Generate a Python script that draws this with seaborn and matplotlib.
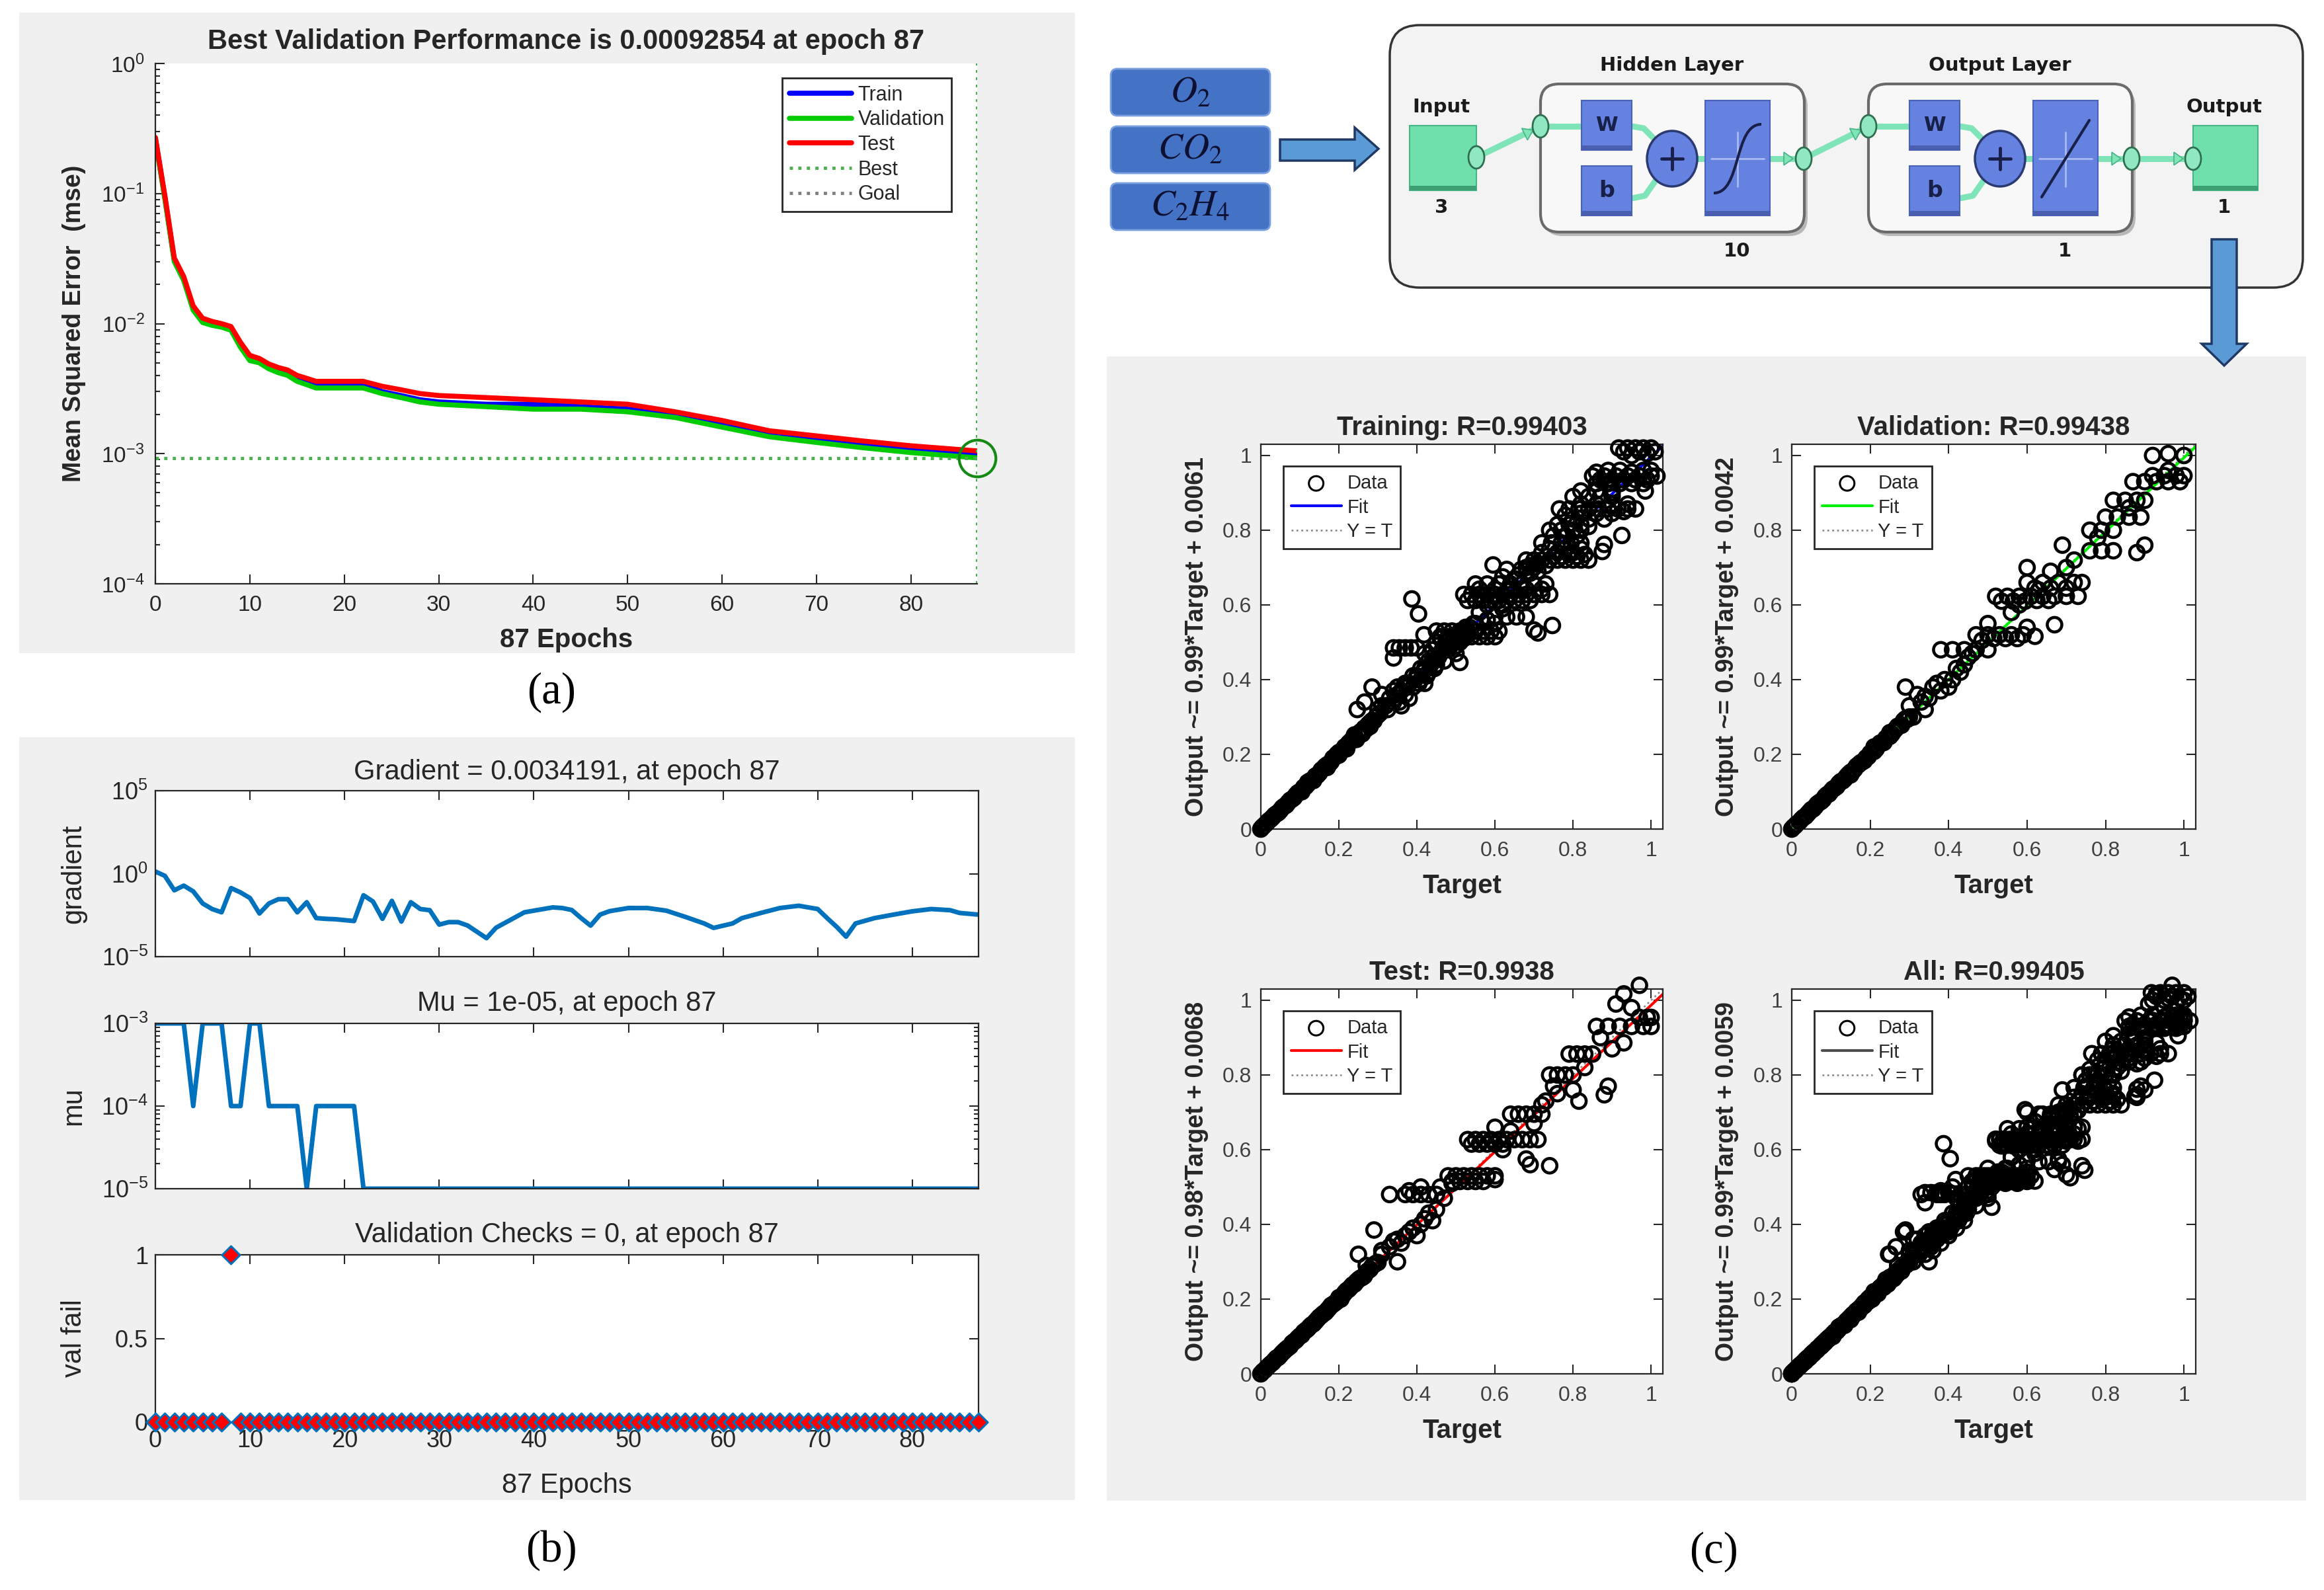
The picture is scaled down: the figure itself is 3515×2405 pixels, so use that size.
import numpy as np
import pandas as pd
import matplotlib
matplotlib.use('Agg')
import matplotlib.pyplot as plt
import seaborn as sns
from matplotlib.patches import Rectangle, FancyBboxPatch, Ellipse, Polygon, PathPatch
from matplotlib.path import Path
from matplotlib.ticker import FixedLocator, NullLocator, NullFormatter

W, H = 3516, 2405

# ---------------- (a) training performance (mse per epoch) ----------------
perf_epochs = [0, 1, 2, 3, 4, 5, 6, 7, 8, 9, 10, 11, 12, 13, 14, 15, 16, 17, 20, 22,
               24, 26, 28, 30, 35, 40, 45, 50, 55, 60, 65, 70, 75, 80, 87]
perf_train = [0.265, 0.094, 0.031, 0.0223, 0.0132, 0.0106, 0.01, 0.0097, 0.0092, 0.0069,
              0.0055, 0.0052, 0.0047, 0.0044, 0.0042, 0.0038, 0.0036, 0.0034, 0.0034, 0.0034,
              0.003, 0.0028, 0.0026, 0.0025, 0.0024, 0.0024, 0.0023, 0.0022, 0.002, 0.0017,
              0.0014, 0.00128, 0.00117, 0.00108, 0.00099]
perf_val = [0.26, 0.091, 0.03, 0.0215, 0.0127, 0.0102, 0.0097, 0.0094, 0.0089, 0.0066,
            0.0052, 0.005, 0.0045, 0.0042, 0.004, 0.0036, 0.0034, 0.0032, 0.0032, 0.0032,
            0.0029, 0.0027, 0.0025, 0.0024, 0.0023, 0.0022, 0.0022, 0.0021, 0.0019, 0.0016,
            0.00135, 0.00122, 0.00111, 0.00102, 0.00092854]
perf_test = [0.27, 0.097, 0.032, 0.023, 0.0137, 0.011, 0.0104, 0.01, 0.0095, 0.0072,
             0.0057, 0.0054, 0.0049, 0.0046, 0.0044, 0.004, 0.0038, 0.0036, 0.0036, 0.0036,
             0.0033, 0.0031, 0.0029, 0.0028, 0.0027, 0.0026, 0.0025, 0.0024, 0.0021, 0.0018,
             0.0015, 0.00137, 0.00125, 0.00115, 0.00105]
best_epoch = 87
best_perf = 0.00092854

# ---------------- (b) training state ----------------
grad_epochs = [0, 1, 2, 3, 4, 5, 6, 7, 8, 9, 10, 11, 12, 13, 14, 15, 16, 17, 18, 19, 21,
               22, 23, 24, 25, 26, 27, 28, 29, 30, 31, 32, 33, 35, 36, 38, 39, 41, 42, 43,
               44, 45, 46, 47, 48, 50, 52, 54, 56, 58, 59, 61, 62, 64, 66, 68, 70, 71, 72,
               73, 74, 76, 78, 80, 82, 84, 85, 87]
grad_values = [1.35, 0.74, 0.1, 0.19, 0.086, 0.016, 0.0074, 0.0047, 0.135, 0.074, 0.034,
               0.004, 0.016, 0.029, 0.029, 0.0047, 0.019, 0.0021, 0.0019, 0.0018, 0.0014,
               0.05, 0.021, 0.0019, 0.023, 0.0013, 0.019, 0.0074, 0.0063, 0.00085, 0.0012,
               0.0012, 0.00075, 0.00013, 0.00055, 0.0023, 0.0047, 0.0074, 0.0093, 0.0085,
               0.0065, 0.0021, 0.00074, 0.0034, 0.0055, 0.0085, 0.0085, 0.0059, 0.0025,
               0.001, 0.00054, 0.001, 0.0021, 0.0043, 0.0085, 0.0117, 0.0074, 0.0021,
               0.00063, 0.00016, 0.001, 0.0021, 0.0034, 0.0054, 0.0074, 0.0063, 0.0043, 0.0034]
mu_epochs = [0, 3, 4, 5, 7, 8, 9, 10, 11, 12, 15, 16, 17, 21, 22, 87]
mu_values = [1e-3, 1e-3, 1e-4, 1e-3, 1e-3, 1e-4, 1e-4, 1e-3, 1e-3, 1e-4, 1e-4, 1e-5,
             1e-4, 1e-4, 1e-5, 1e-5]
valfail_epochs = list(range(88))
valfail_values = [0, 0, 0, 0, 0, 0, 0, 0, 1, 0, 0, 0, 0, 0, 0, 0, 0, 0, 0, 0, 0, 0,
                  0, 0, 0, 0, 0, 0, 0, 0, 0, 0, 0, 0, 0, 0, 0, 0, 0, 0, 0, 0, 0, 0,
                  0, 0, 0, 0, 0, 0, 0, 0, 0, 0, 0, 0, 0, 0, 0, 0, 0, 0, 0, 0, 0, 0,
                  0, 0, 0, 0, 0, 0, 0, 0, 0, 0, 0, 0, 0, 0, 0, 0, 0, 0, 0, 0, 0, 0]

# ---------------- (c) regression (target, output) ----------------
train_points = [
    (0.000, 0.000), (0.003, 0.004), (0.006, 0.007), (0.010, 0.011), (0.015, 0.016), (0.020, 0.022),
    (0.025, 0.026), (0.030, 0.031), (0.040, 0.041), (0.050, 0.050), (0.060, 0.061), (0.070, 0.071),
    (0.080, 0.080), (0.090, 0.091), (0.100, 0.100), (0.110, 0.112), (0.120, 0.120), (0.130, 0.131),
    (0.140, 0.142), (0.150, 0.150), (0.160, 0.162), (0.170, 0.172), (0.180, 0.180), (0.190, 0.193),
    (0.200, 0.205), (0.210, 0.212), (0.220, 0.222), (0.230, 0.235), (0.240, 0.245), (0.250, 0.250),
    (0.260, 0.262), (0.270, 0.268), (0.280, 0.285), (0.290, 0.290), (0.300, 0.305),
    (0.035, 0.037), (0.045, 0.044), (0.055, 0.057), (0.065, 0.064), (0.075, 0.077), (0.085, 0.084),
    (0.095, 0.097), (0.115, 0.114), (0.125, 0.128), (0.145, 0.144), (0.165, 0.168), (0.175, 0.174),
    (0.205, 0.207),
    (0.120, 0.125), (0.170, 0.165), (0.200, 0.198), (0.220, 0.215), (0.240, 0.252), (0.260, 0.255),
    (0.280, 0.275), (0.247, 0.320), (0.266, 0.340), (0.285, 0.380), (0.300, 0.320), (0.310, 0.360),
    (0.105, 0.100), (0.135, 0.130), (0.155, 0.158), (0.185, 0.190), (0.195, 0.200), (0.215, 0.220),
    (0.235, 0.240), (0.255, 0.260), (0.275, 0.280), (0.295, 0.300), (0.225, 0.230), (0.245, 0.240),
    (0.265, 0.270), (0.285, 0.290), (0.305, 0.310),
    (0.320, 0.330), (0.330, 0.350), (0.340, 0.340), (0.350, 0.360), (0.360, 0.370), (0.370, 0.360),
    (0.380, 0.390), (0.390, 0.380), (0.400, 0.410), (0.410, 0.400), (0.420, 0.430), (0.430, 0.420),
    (0.440, 0.450), (0.450, 0.440), (0.360, 0.330), (0.380, 0.350), (0.420, 0.390), (0.340, 0.370),
    (0.310, 0.330), (0.325, 0.320), (0.345, 0.350), (0.355, 0.340), (0.365, 0.380), (0.375, 0.380),
    (0.395, 0.400), (0.405, 0.390), (0.415, 0.420), (0.425, 0.410), (0.435, 0.440), (0.445, 0.430),
    (0.455, 0.460), (0.390, 0.410), (0.410, 0.430), (0.430, 0.450), (0.350, 0.380), (0.370, 0.390),
    (0.340, 0.485), (0.355, 0.485), (0.370, 0.485), (0.385, 0.485), (0.400, 0.485),
    (0.340, 0.458), (0.387, 0.616), (0.404, 0.576), (0.418, 0.520), (0.510, 0.446), (0.420, 0.470),
    (0.460, 0.470), (0.470, 0.490), (0.480, 0.480), (0.490, 0.500), (0.500, 0.510), (0.510, 0.500),
    (0.520, 0.530), (0.530, 0.520), (0.500, 0.470), (0.470, 0.450), (0.440, 0.480), (0.450, 0.500),
    (0.465, 0.480), (0.475, 0.500), (0.485, 0.490), (0.495, 0.510), (0.505, 0.520), (0.515, 0.510),
    (0.525, 0.540), (0.535, 0.540), (0.545, 0.550), (0.480, 0.510), (0.500, 0.490), (0.520, 0.510),
    (0.460, 0.510), (0.440, 0.460),
    (0.450, 0.530), (0.470, 0.530), (0.490, 0.530), (0.510, 0.530), (0.530, 0.530), (0.550, 0.530),
    (0.570, 0.530), (0.590, 0.530), (0.610, 0.530), (0.550, 0.550), (0.580, 0.560), (0.600, 0.550),
    (0.460, 0.515), (0.480, 0.515), (0.500, 0.515), (0.520, 0.515), (0.540, 0.515), (0.560, 0.515),
    (0.580, 0.515), (0.600, 0.515),
    (0.520, 0.628), (0.540, 0.628), (0.560, 0.628), (0.580, 0.628), (0.600, 0.628), (0.620, 0.628),
    (0.640, 0.628), (0.660, 0.628), (0.680, 0.628), (0.700, 0.628), (0.720, 0.628), (0.740, 0.628),
    (0.530, 0.612), (0.550, 0.612), (0.570, 0.612), (0.590, 0.612), (0.610, 0.612), (0.630, 0.612),
    (0.650, 0.612), (0.670, 0.612), (0.690, 0.612), (0.560, 0.642), (0.600, 0.642), (0.640, 0.642),
    (0.680, 0.642), (0.720, 0.642),
    (0.550, 0.656), (0.580, 0.656), (0.610, 0.656), (0.640, 0.656), (0.670, 0.656), (0.700, 0.656),
    (0.730, 0.656), (0.560, 0.580), (0.580, 0.600), (0.600, 0.610), (0.620, 0.600), (0.640, 0.640),
    (0.660, 0.680), (0.680, 0.700), (0.700, 0.700), (0.630, 0.568), (0.655, 0.568), (0.680, 0.568),
    (0.700, 0.533), (0.710, 0.525), (0.747, 0.545), (0.600, 0.570), (0.620, 0.590), (0.595, 0.707),
    (0.630, 0.695), (0.667, 0.695), (0.620, 0.675), (0.650, 0.670), (0.690, 0.685), (0.710, 0.690),
    (0.680, 0.720), (0.700, 0.720), (0.720, 0.720), (0.740, 0.720), (0.760, 0.720), (0.780, 0.720),
    (0.800, 0.720), (0.820, 0.720), (0.840, 0.720), (0.720, 0.740), (0.760, 0.740), (0.800, 0.740),
    (0.690, 0.705), (0.710, 0.710), (0.730, 0.705), (0.750, 0.730), (0.770, 0.730), (0.790, 0.735),
    (0.810, 0.730), (0.830, 0.735), (0.740, 0.750), (0.780, 0.750), (0.820, 0.750),
    (0.720, 0.766), (0.745, 0.766), (0.770, 0.766), (0.795, 0.766), (0.820, 0.766),
    (0.925, 0.786), (0.880, 0.762), (0.875, 0.743), (0.740, 0.800), (0.770, 0.800),
    (0.800, 0.800), (0.820, 0.800), (0.750, 0.785), (0.780, 0.785), (0.810, 0.785), (0.760, 0.815),
    (0.790, 0.815), (0.820, 0.815), (0.840, 0.810),
    (0.765, 0.857), (0.790, 0.857), (0.815, 0.857), (0.840, 0.857), (0.865, 0.857), (0.890, 0.857),
    (0.915, 0.857), (0.940, 0.857), (0.960, 0.857), (0.800, 0.830), (0.840, 0.830), (0.880, 0.830),
    (0.780, 0.840), (0.820, 0.845), (0.860, 0.845), (0.900, 0.845), (0.930, 0.850), (0.820, 0.870),
    (0.860, 0.870), (0.900, 0.870), (0.940, 0.870), (0.820, 0.905), (0.860, 0.905), (0.900, 0.910),
    (0.800, 0.890), (0.840, 0.890), (0.870, 0.890), (0.900, 0.890),
    (0.860, 0.925), (0.890, 0.925), (0.920, 0.925), (0.950, 0.925), (0.980, 0.925), (0.850, 0.945),
    (0.880, 0.945), (0.910, 0.945), (0.940, 0.945), (0.970, 0.945), (1.000, 0.945), (1.015, 0.945),
    (0.870, 0.935), (0.900, 0.935), (0.930, 0.935), (0.960, 0.935), (0.990, 0.935), (0.860, 0.955),
    (0.890, 0.960), (0.920, 0.960), (0.950, 0.955), (0.980, 0.960), (1.000, 0.960),
    (0.985, 0.905), (0.900, 0.900), (0.917, 1.020), (0.940, 1.020), (0.960, 1.020), (0.980, 1.020),
    (1.000, 1.020), (0.950, 1.000), (0.990, 1.005), (0.930, 1.010), (0.970, 1.010), (1.010, 1.010),
]
val_points = [
    (0.000, 0.000), (0.004, 0.005), (0.008, 0.008), (0.012, 0.013), (0.020, 0.020), (0.030, 0.031),
    (0.040, 0.040), (0.050, 0.052), (0.060, 0.060), (0.070, 0.071), (0.080, 0.079), (0.090, 0.092),
    (0.100, 0.101), (0.110, 0.110), (0.120, 0.122), (0.130, 0.129), (0.140, 0.141), (0.150, 0.152),
    (0.160, 0.160), (0.170, 0.172), (0.180, 0.180), (0.190, 0.191), (0.200, 0.203), (0.210, 0.208),
    (0.220, 0.224), (0.230, 0.230), (0.240, 0.243), (0.250, 0.248), (0.260, 0.262), (0.270, 0.275),
    (0.280, 0.278), (0.290, 0.295), (0.300, 0.300), (0.150, 0.145), (0.210, 0.220), (0.250, 0.258),
    (0.025, 0.026), (0.035, 0.034), (0.045, 0.046), (0.055, 0.054), (0.065, 0.067), (0.075, 0.074),
    (0.085, 0.087), (0.095, 0.094), (0.105, 0.107), (0.115, 0.114), (0.125, 0.127), (0.135, 0.134),
    (0.145, 0.147), (0.155, 0.154), (0.175, 0.177), (0.195, 0.194), (0.205, 0.206), (0.215, 0.214),
    (0.245, 0.247), (0.255, 0.254), (0.275, 0.277), (0.295, 0.294),
    (0.165, 0.168), (0.185, 0.183), (0.225, 0.230), (0.235, 0.232), (0.265, 0.268), (0.285, 0.290),
    (0.290, 0.380), (0.320, 0.360), (0.300, 0.330), (0.310, 0.300), (0.330, 0.340), (0.350, 0.350),
    (0.360, 0.380), (0.380, 0.370), (0.390, 0.400), (0.410, 0.400), (0.420, 0.430), (0.440, 0.440),
    (0.450, 0.460), (0.400, 0.380), (0.340, 0.320), (0.340, 0.355), (0.370, 0.390), (0.430, 0.420),
    (0.380, 0.480), (0.410, 0.480), (0.440, 0.480), (0.470, 0.480), (0.500, 0.480), (0.460, 0.470),
    (0.470, 0.520), (0.500, 0.520), (0.530, 0.520), (0.560, 0.520), (0.590, 0.520), (0.485, 0.505),
    (0.515, 0.510), (0.545, 0.510), (0.575, 0.510),
    (0.600, 0.540), (0.620, 0.516), (0.670, 0.547), (0.500, 0.550), (0.520, 0.623),
    (0.550, 0.623), (0.580, 0.623), (0.610, 0.623), (0.640, 0.623), (0.670, 0.623), (0.700, 0.623),
    (0.730, 0.623), (0.535, 0.610), (0.565, 0.610), (0.595, 0.610), (0.625, 0.612), (0.655, 0.612),
    (0.600, 0.660), (0.640, 0.660), (0.680, 0.660), (0.720, 0.660), (0.740, 0.660), (0.620, 0.645),
    (0.660, 0.645), (0.700, 0.645),
    (0.600, 0.700), (0.660, 0.690), (0.690, 0.760), (0.560, 0.580), (0.580, 0.600), (0.630, 0.640),
    (0.700, 0.700), (0.720, 0.720), (0.760, 0.745), (0.790, 0.745), (0.820, 0.745), (0.880, 0.740),
    (0.900, 0.760), (0.760, 0.800), (0.790, 0.800), (0.820, 0.800), (0.780, 0.780), (0.800, 0.835),
    (0.830, 0.835), (0.860, 0.835), (0.890, 0.835), (0.820, 0.880), (0.850, 0.880), (0.880, 0.880),
    (0.900, 0.880), (0.860, 0.860), (0.870, 0.930), (0.900, 0.930), (0.930, 0.930), (0.960, 0.930),
    (0.990, 0.930), (0.920, 0.946), (0.950, 0.946), (0.980, 0.946), (1.000, 0.946), (0.960, 0.960),
    (0.920, 1.000), (0.960, 1.005), (1.000, 1.000),
]
test_points = [
    (0.000, 0.000), (0.005, 0.006), (0.010, 0.010), (0.015, 0.016), (0.020, 0.021), (0.030, 0.030),
    (0.040, 0.042), (0.050, 0.050), (0.060, 0.061), (0.070, 0.070), (0.080, 0.082), (0.090, 0.090),
    (0.100, 0.101), (0.110, 0.112), (0.120, 0.120), (0.130, 0.131), (0.140, 0.140), (0.150, 0.152),
    (0.160, 0.161), (0.170, 0.170), (0.180, 0.183), (0.190, 0.190), (0.200, 0.204), (0.210, 0.210),
    (0.220, 0.223), (0.230, 0.232), (0.240, 0.240), (0.250, 0.252), (0.260, 0.258), (0.270, 0.272),
    (0.280, 0.280), (0.290, 0.292), (0.300, 0.298), (0.205, 0.200), (0.235, 0.238), (0.265, 0.262),
    (0.025, 0.026), (0.035, 0.036), (0.045, 0.044), (0.055, 0.056), (0.065, 0.066), (0.075, 0.074),
    (0.085, 0.086), (0.095, 0.096), (0.105, 0.104), (0.115, 0.116), (0.125, 0.126), (0.135, 0.134),
    (0.145, 0.146), (0.155, 0.156), (0.165, 0.164), (0.175, 0.176), (0.185, 0.186), (0.195, 0.194),
    (0.215, 0.217), (0.225, 0.226), (0.245, 0.247), (0.255, 0.256), (0.275, 0.276), (0.295, 0.296),
    (0.285, 0.288), (0.250, 0.320), (0.290, 0.385), (0.350, 0.300),
    (0.330, 0.480), (0.380, 0.490), (0.410, 0.500), (0.270, 0.290), (0.310, 0.330), (0.370, 0.480),
    (0.390, 0.480), (0.410, 0.480), (0.430, 0.480), (0.450, 0.480), (0.310, 0.320), (0.330, 0.340),
    (0.350, 0.360), (0.370, 0.370), (0.390, 0.390), (0.410, 0.400), (0.430, 0.430), (0.450, 0.440),
    (0.400, 0.370), (0.380, 0.380), (0.360, 0.350), (0.440, 0.410), (0.340, 0.355), (0.420, 0.415),
    (0.480, 0.530), (0.500, 0.530),
    (0.520, 0.530), (0.540, 0.530), (0.560, 0.530), (0.580, 0.530), (0.600, 0.530), (0.600, 0.520),
    (0.490, 0.515), (0.510, 0.515), (0.530, 0.515), (0.550, 0.515), (0.570, 0.515),
    (0.460, 0.500), (0.470, 0.470), (0.490, 0.510), (0.530, 0.627), (0.550, 0.627), (0.570, 0.627),
    (0.590, 0.627), (0.610, 0.627), (0.630, 0.627), (0.650, 0.627), (0.670, 0.627), (0.690, 0.627),
    (0.710, 0.627), (0.540, 0.615), (0.560, 0.615), (0.580, 0.615), (0.600, 0.615), (0.620, 0.615),
    (0.640, 0.695), (0.660, 0.695), (0.680, 0.695), (0.700, 0.695), (0.720, 0.695),
    (0.680, 0.575), (0.690, 0.560), (0.740, 0.557), (0.620, 0.600), (0.640, 0.650), (0.600, 0.660),
    (0.700, 0.670), (0.720, 0.720), (0.740, 0.800), (0.760, 0.800), (0.780, 0.800), (0.800, 0.800),
    (0.760, 0.750), (0.730, 0.730), (0.750, 0.770), (0.815, 0.730), (0.880, 0.747), (0.890, 0.770),
    (0.800, 0.760), (0.830, 0.820), (0.790, 0.856), (0.810, 0.856), (0.830, 0.856), (0.850, 0.856),
    (0.860, 0.930), (0.890, 0.930), (0.920, 0.930), (0.950, 0.930), (0.980, 0.930), (1.000, 0.930),
    (0.970, 0.954), (0.990, 0.954), (1.000, 0.954), (0.930, 1.017), (0.970, 1.040), (0.910, 0.990),
    (0.930, 0.886), (0.870, 0.900), (0.900, 0.870), (0.950, 0.980),
]
all_points = train_points + val_points + test_points

reg_names = ['Training', 'Validation', 'Test', 'All']
reg_r = [0.99403, 0.99438, 0.9938, 0.99405]
reg_slope = [0.99, 0.99, 0.98, 0.99]
reg_intercept = [0.0061, 0.0042, 0.0068, 0.0059]
reg_colors = ['#0000ff', '#00ee00', '#ff0000', '#4d4d4d']
reg_sets = [train_points, val_points, test_points, all_points]

# ---------------- style ----------------
sns.set_theme(style='ticks')
plt.rcParams['font.family'] = ['Liberation Sans', 'DejaVu Sans']
plt.rcParams['axes.facecolor'] = 'white'
INK = '#262626'
MBLUE = '#0072BD'

fig = plt.figure(figsize=(W / 100, H / 100), dpi=100)
fig.patch.set_facecolor('white')

bg = fig.add_axes([0, 0, 1, 1], zorder=-10)
bg.set_xlim(0, W)
bg.set_ylim(H, 0)
bg.axis('off')


def box_axes(x0, y0, x1, y1):
    return fig.add_axes([x0 / W, 1 - y1 / H, (x1 - x0) / W, (y1 - y0) / H])


def matlab_ticks(ax, size, pad, box=True):
    ax.tick_params(which='both', direction='in', color=INK, labelcolor=INK,
                   labelsize=size, pad=pad, top=box, right=box, width=1.5)
    ax.tick_params(which='major', length=10)
    ax.tick_params(which='minor', length=5)
    for name, s in ax.spines.items():
        s.set_color(INK)
        s.set_linewidth(1.6)
        if not box and name in ('top', 'right'):
            s.set_visible(False)


# gray panel backgrounds
for (x0, y0, x1, y1) in [(29, 19, 1626, 988), (29, 1115, 1626, 2269), (1674, 539, 3488, 2270)]:
    bg.add_patch(Rectangle((x0, y0), x1 - x0, y1 - y0, fc='#f0f0f0', ec='none'))

# ---------------- (a) ----------------
ax = box_axes(235, 96, 1478, 883)
perf = pd.DataFrame({'epoch': perf_epochs, 'Train': perf_train,
                     'Validation': perf_val, 'Test': perf_test})
for name, col in [('Train', '#0000ff'), ('Validation', '#00cc00'), ('Test', '#ff0000')]:
    sns.lineplot(data=perf, x='epoch', y=name, color=col, linewidth=5.5, ax=ax,
                 label=name, estimator=None, sort=False)
ax.axhline(best_perf, ls=':', color='#4caf50', lw=3.5, label='Best')
ax.axvline(best_epoch, ls=':', color='#4caf50', lw=3)
ax.plot([], [], ls=':', color='#808080', lw=3.5, label='Goal')
ax.plot([best_epoch], [best_perf], 'o', ms=40, mfc='none', mec='#138a13', mew=3,
        clip_on=False, zorder=5)
ax.set_yscale('log')
ax.set_ylim(1e-4, 1)
ax.set_xlim(0, 87)
ax.set_xticks(range(0, 81, 10))
matlab_ticks(ax, 24, 12, box=False)
ax.set_title('Best Validation Performance is 0.00092854 at epoch 87',
             fontsize=30, fontweight='bold', pad=16)
ax.set_xlabel('87 Epochs', fontsize=29, fontweight='bold')
ax.set_ylabel('Mean Squared Error  (mse)', fontsize=27, fontweight='bold')
ax.xaxis.set_label_coords(0.5, -0.108)
ax.xaxis.label.set_va('center')
ax.yaxis.set_label_coords(-0.099, 0.5)
ax.yaxis.label.set_va('center')
h, l = ax.get_legend_handles_labels()
leg = ax.legend(h, l, loc='upper right', bbox_to_anchor=(0.969, 0.972), fontsize=22,
                frameon=True, fancybox=False, edgecolor=INK, framealpha=1,
                handlelength=3.1, handletextpad=0.3, labelspacing=0.25, borderpad=0.35,
                borderaxespad=0)
leg.get_frame().set_linewidth(2)

# ---------------- (b) ----------------
axg = box_axes(235, 1196, 1480, 1447)
sns.lineplot(x=grad_epochs, y=grad_values, color=MBLUE, linewidth=5, ax=axg,
             estimator=None, sort=False)
axg.set_yscale('log')
axg.set_ylim(1e-5, 1e5)
axg.yaxis.set_major_locator(FixedLocator([1e-5, 1, 1e5]))
axg.yaxis.set_minor_locator(NullLocator())
axg.set_title('Gradient = 0.0034191, at epoch 87', fontsize=30, pad=12)
axg.set_ylabel('gradient', fontsize=30)

axm = box_axes(235, 1548, 1480, 1798)
sns.lineplot(x=mu_epochs, y=mu_values, color=MBLUE, linewidth=5, ax=axm,
             estimator=None, sort=False)
axm.set_yscale('log')
axm.set_ylim(1e-5, 1e-3)
axm.yaxis.set_minor_formatter(NullFormatter())
axm.set_title('Mu = 1e-05, at epoch 87', fontsize=30, pad=14)
axm.set_ylabel('mu', fontsize=30)

axv = box_axes(235, 1898, 1480, 2151)
sns.scatterplot(x=valfail_epochs, y=valfail_values, marker='D', s=190, color='#ff0000',
                edgecolor=MBLUE, linewidth=2.2, ax=axv, clip_on=False, zorder=5)
axv.set_ylim(0, 1)
axv.set_yticks([0, 0.5, 1])
axv.set_yticklabels(['0', '0.5', '1'])
axv.set_title('Validation Checks = 0, at epoch 87', fontsize=30, pad=14)
axv.set_ylabel('val fail', fontsize=30)
axv.set_xlabel('87 Epochs', fontsize=30)
axv.xaxis.set_label_coords(0.5, -0.379)
axv.xaxis.label.set_va('center')

for a in (axg, axm, axv):
    a.set_xlim(0, 87)
    a.set_xticks(range(0, 81, 10))
    matlab_ticks(a, 26, 8)
    a.yaxis.set_label_coords(-0.099, 0.5)
    a.yaxis.label.set_va('center')
for a in (axg, axm):
    a.set_xticklabels([])

# ---------------- (c) regression plots ----------------
reg_boxes = [(1907, 672, 2515, 1254), (2710, 672, 3321, 1254),
             (1907, 1496, 2515, 2078), (2710, 1496, 3321, 2078)]
for name, r, a_, b_, col, pts, bx in zip(reg_names, reg_r, reg_slope, reg_intercept,
                                         reg_colors, reg_sets, reg_boxes):
    ax = box_axes(*bx)
    df = pd.DataFrame(pts, columns=['target', 'output'])
    lim = [0, 1.03]
    ax.plot(lim, [a_ * v + b_ for v in lim], color=col, lw=3, label='Fit', zorder=2)
    ax.plot(lim, lim, ls=':', color='#8c8c8c', lw=2, label='Y = T', zorder=1)
    sns.scatterplot(data=df, x='target', y='output', marker='o', s=250,
                    facecolor='none', edgecolor='black', linewidth=3.3, ax=ax,
                    label='Data', clip_on=False, zorder=3)
    ax.set_xlim(lim)
    ax.set_ylim(lim)
    ticks = [0, 0.2, 0.4, 0.6, 0.8, 1]
    tick_lbl = ['0', '0.2', '0.4', '0.6', '0.8', '1']
    ax.set_xticks(ticks)
    ax.set_xticklabels(tick_lbl)
    ax.set_yticks(ticks)
    ax.set_yticklabels(tick_lbl)
    matlab_ticks(ax, 23, 10)
    ax.tick_params(axis='x', pad=13)
    ax.tick_params(labelcolor='#404040')
    ax.set_title(f'{name}: R={r}', fontsize=29, fontweight='bold', pad=10)
    ax.set_xlabel('Target', fontsize=29, fontweight='bold')
    ax.set_ylabel(f'Output ~= {a_:.2f}*Target + {b_:.4f}', fontsize=27, fontweight='bold')
    ax.xaxis.set_label_coords(0.5, -0.148)
    ax.xaxis.label.set_va('center')
    ax.yaxis.set_label_coords(-0.16, 0.5)
    ax.yaxis.label.set_va('center')
    h, l = ax.get_legend_handles_labels()
    order = [l.index('Data'), l.index('Fit'), l.index('Y = T')]
    leg = ax.legend([h[i] for i in order], [l[i] for i in order], loc='upper left',
                    bbox_to_anchor=(0.056, 0.943), fontsize=21, frameon=True,
                    fancybox=False, edgecolor=INK, framealpha=1, handlelength=2.6,
                    handletextpad=0.3, labelspacing=0.3, borderpad=0.4,
                    borderaxespad=0, scatterpoints=1)
    leg.get_frame().set_linewidth(2)
    for hd in leg.legend_handles:
        if hasattr(hd, 'set_linewidths'):
            hd.set_linewidths([2.2])

# ---------------- network diagram ----------------
GREEN = '#6fe0ac'
GREEN_EDGE = '#47b585'
LINK = '#7fe4b8'
BLUE = '#6682e0'
BLUE_EDGE = '#4a62b8'
NAVY = '#18204a'

# input gas boxes
for y0, lbl in [(104, r'$O_2$'), (191, r'$CO_2$'), (277, r'$C_2H_4$')]:
    bg.add_patch(FancyBboxPatch((1680, y0), 241, 71, boxstyle='round,pad=0,rounding_size=10',
                                fc='#4472c4', ec='#7aa0e0', lw=2))
    bg.text(1800, y0 + 36, lbl, fontsize=40, math_fontfamily='stix', ha='center',
            va='center', color='#0d1030')

# arrows
bg.add_patch(Polygon([(1936, 211), (2049, 211), (2049, 193), (2085, 225), (2049, 257),
                      (2049, 243), (1936, 243)], closed=True, fc='#5b9bd5', ec='#1f3864', lw=2.5))
bg.add_patch(Polygon([(3345, 362), (3383, 362), (3383, 520), (3398, 520), (3364, 553),
                      (3330, 520), (3345, 520)], closed=True, fc='#5b9bd5', ec='#1f3864',
                     lw=2.5, zorder=5))

# outer frame
bg.add_patch(FancyBboxPatch((2102, 38), 1381, 397, boxstyle='round,pad=0,rounding_size=45',
                            fc='#f3f3f3', ec='#333333', lw=2.5))


def block(x, y, w, h, fc, ec, dark):
    bg.add_patch(Rectangle((x, y), w, h, fc=fc, ec=ec, lw=1.5, zorder=3))
    bg.add_patch(Rectangle((x, y + h - 7), w, 7, fc=dark, ec='none', zorder=3))


def link(pts, zorder=2):
    xs, ys = zip(*pts)
    bg.plot(xs, ys, color=LINK, lw=6.5, solid_capstyle='round', solid_joinstyle='round',
            zorder=zorder)


def head(x, y, dx, dy, size=14):
    n = np.hypot(dx, dy)
    ux, uy = dx / n, dy / n
    px, py = -uy, ux
    tip = (x + ux * size, y + uy * size)
    bg.add_patch(Polygon([tip, (x + px * size * 0.7, y + py * size * 0.7),
                          (x - px * size * 0.7, y - py * size * 0.7)], closed=True,
                         fc=LINK, ec=GREEN_EDGE, lw=1.2, zorder=4))


def node(x, y):
    bg.add_patch(Ellipse((x, y), 24, 34, fc='#8fe8c0', ec='#2f6f4f', lw=2, zorder=6))


# input / output green blocks
block(2132, 190, 101, 98, GREEN, GREEN_EDGE, '#3f9f74')
block(3317, 190, 98, 98, GREEN, GREEN_EDGE, '#3f9f74')

for dx, curve in [(0, 'sig'), (496, 'lin')]:
    # layer frame with a soft shadow
    bg.add_patch(FancyBboxPatch((2330 + dx + 5, 127 + 6), 399, 224,
                                boxstyle='round,pad=0,rounding_size=28', fc='#b8b8b8',
                                ec='none', zorder=1))
    bg.add_patch(FancyBboxPatch((2330 + dx, 127), 399, 224,
                                boxstyle='round,pad=0,rounding_size=28', fc='#f8f8f8',
                                ec='#6a6a6a', lw=3, zorder=1.5))
    # links inside the layer
    link([(2330 + dx, 191), (2392 + dx, 191)])
    link([(2468 + dx, 191), (2486 + dx, 194), (2500 + dx, 208), (2510 + dx, 218)])
    link([(2468 + dx, 300), (2488 + dx, 296), (2502 + dx, 276), (2510 + dx, 264)])
    link([(2567 + dx, 240), (2579 + dx, 240)])
    link([(2677 + dx, 240), (2728 + dx, 240)])
    head(2698 + dx, 240, 1, 0)
    block(2392 + dx, 152, 76, 75, BLUE, BLUE_EDGE, '#4a5fb0')
    block(2392 + dx, 251, 76, 75, BLUE, BLUE_EDGE, '#4a5fb0')
    bg.text(2430 + dx, 190, 'W', fontsize=22, fontweight='bold', family='DejaVu Sans',
            ha='center', va='center', color=NAVY, zorder=5)
    bg.text(2430 + dx, 288, 'b', fontsize=24, fontweight='bold', family='DejaVu Sans',
            ha='center', va='center', color=NAVY, zorder=5)
    bg.add_patch(Ellipse((2529 + dx, 240), 76, 84, fc=BLUE, ec='#2a3a70', lw=2.5, zorder=4))
    bg.plot([2513 + dx, 2545 + dx], [240, 240], color=NAVY, lw=3.5, zorder=5)
    bg.plot([2529 + dx, 2529 + dx], [224, 256], color=NAVY, lw=3.5, zorder=5)
    block(2579 + dx, 152, 98, 174, BLUE, BLUE_EDGE, '#4a5fb0')
    bg.plot([2588 + dx, 2668 + dx], [240, 240], color='#a9bbf2', lw=2, zorder=4)
    bg.plot([2628 + dx, 2628 + dx], [200, 282], color='#a9bbf2', lw=2, zorder=4)
    if curve == 'sig':
        p = Path([(2592, 292), (2634, 292), (2622, 188), (2664, 188)],
                 [Path.MOVETO, Path.CURVE4, Path.CURVE4, Path.CURVE4])
        bg.add_patch(PathPatch(p, fc='none', ec=NAVY, lw=3, zorder=5))
    else:
        bg.plot([2592 + dx, 2664 + dx], [298, 182], color=NAVY, lw=3, zorder=5)
    node(2330 + dx, 191)
    node(2728 + dx, 240)

# links between blocks
link([(2233, 238), (2330, 191)])
head(2306, 203, 97, -47)
link([(2728, 240), (2826, 191)])
head(2802, 203, 98, -49)
link([(3224, 240), (3317, 240)])
head(3288, 240, 1, 0)
node(2233, 238)
node(3317, 240)

for x, y, t in [(2529, 99, 'Hidden Layer'), (3025, 99, 'Output Layer'), (2180, 162, 'Input'),
                (3364, 162, 'Output'), (2180, 314, '3'), (2627, 380, '10'),
                (3123, 380, '1'), (3364, 314, '1')]:
    bg.text(x, y, t, fontsize=21, fontweight='bold', family='DejaVu Sans', ha='center',
            va='center', color='#1a1a1a')

# panel letters
for x, y, t in [(834, 1047, '(a)'), (834, 2345, '(b)'), (2592, 2347, '(c)')]:
    bg.text(x, y, t, fontsize=48, family='Liberation Serif', ha='center', va='center',
            color='black')

fig.savefig('out.png', dpi=100)
